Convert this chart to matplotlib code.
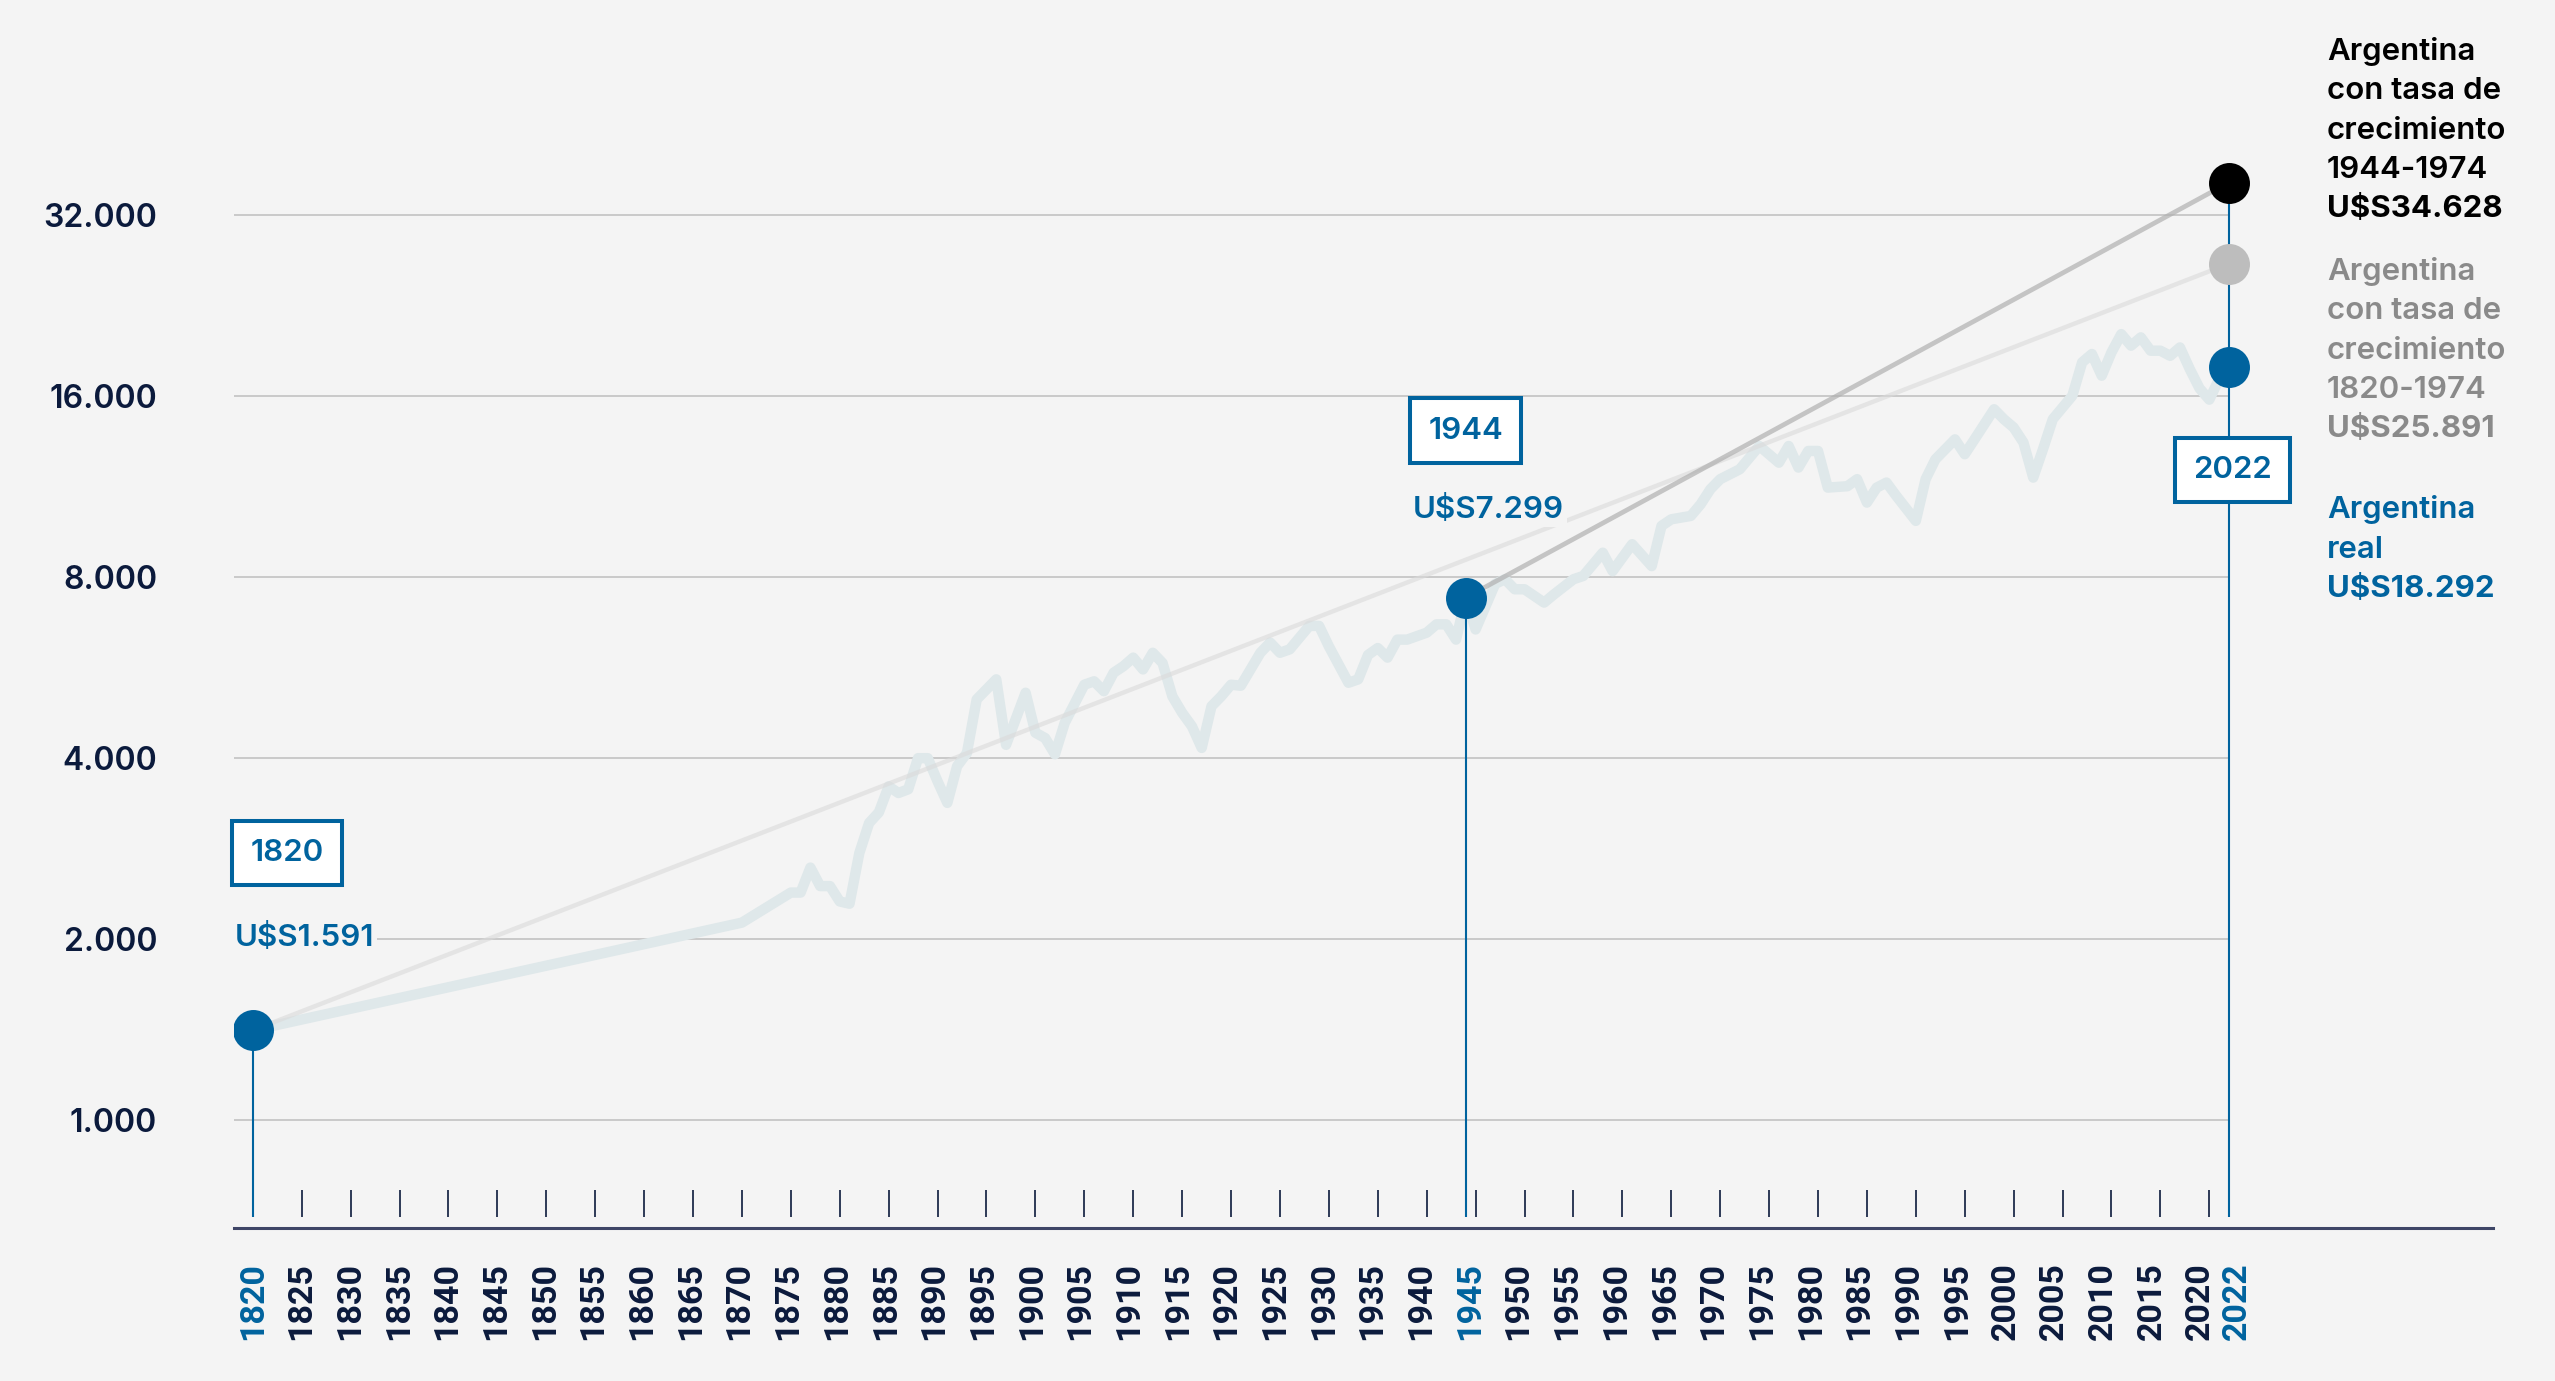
import matplotlib.pyplot as plt
from matplotlib.ticker import NullLocator

# ------------------------------------------------------------
# Datos: PIB per capita de Argentina (U$S)
# ------------------------------------------------------------
years = [1820, 1870, 1875, 1876, 1877, 1878, 1879, 1880, 1881, 1882, 1883, 1884,
         1885, 1886, 1887, 1888, 1889, 1890, 1891, 1892, 1893, 1894, 1896, 1897,
         1899, 1900, 1901, 1902, 1903, 1905, 1906, 1907, 1908, 1909, 1910, 1911,
         1912, 1913, 1914, 1915, 1916, 1917, 1918, 1919, 1920, 1921, 1923, 1924,
         1925, 1926, 1928, 1929, 1930, 1932, 1933, 1934, 1935, 1936, 1937, 1938,
         1940, 1941, 1942, 1943, 1944, 1945, 1947, 1948, 1949, 1950, 1952, 1953,
         1955, 1956, 1958, 1959, 1961, 1963, 1964, 1965, 1967, 1968, 1969, 1970,
         1972, 1974, 1976, 1977, 1978, 1979, 1980, 1981, 1983, 1984, 1985, 1986,
         1987, 1988, 1990, 1991, 1992, 1994, 1995, 1996, 1998, 1999, 2000, 2001,
         2002, 2003, 2004, 2006, 2007, 2008, 2009, 2010, 2011, 2012, 2013, 2014,
         2015, 2016, 2017, 2018, 2019, 2020, 2021, 2022]
gdp = [1410, 2130, 2390, 2390, 2630, 2450, 2450, 2310, 2290, 2780, 3120, 3250,
       3590, 3500, 3550, 4000, 4000, 3660, 3370, 3880, 4080, 5010, 5410, 4210,
       5140, 4410, 4320, 4060, 4580, 5300, 5370, 5170, 5550, 5690, 5880, 5620,
       5990, 5760, 5070, 4760, 4520, 4160, 4880, 5070, 5300, 5280, 5990, 6230,
       5990, 6070, 6640, 6640, 6140, 5340, 5410, 5940, 6100, 5880, 6300, 6300,
       6470, 6680, 6680, 6300, 7400, 6550, 7800, 7940, 7640, 7640, 7260, 7490,
       7940, 8040, 8790, 8190, 9080, 8350, 9740, 9990, 10120, 10580, 11210, 11650,
       12100, 13230, 12410, 13230, 12180, 12980, 12980, 11280, 11340, 11650, 10650, 11280,
       11500, 10930, 9930, 11650, 12570, 13570, 12820, 13570, 15230, 14660, 14200, 13410,
       11720, 13070, 14660, 16040, 18230, 18820, 17320, 18940, 20310, 19430, 20060, 19060,
       19060, 18690, 19300, 17770, 16500, 15800, 17100, 17900]

# proyecciones a 2022
proj_years = [1944, 2022]
proj_4474 = [7400, 36300]      # tasa de crecimiento 1944-1974
proj_years_b = [1820, 2022]
proj_2074 = [1410, 26600]      # tasa de crecimiento 1820-1974

grid_vals = [1000, 2000, 4000, 8000, 16000, 32000]
grid_labels = ["1.000", "2.000", "4.000", "8.000", "16.000", "32.000"]
tick_years = list(range(1820, 2021, 5)) + [2022]
highlight_years = [1820, 1945, 2022]

# ------------------------------------------------------------
# Estilo
# ------------------------------------------------------------
BG = "#f4f4f4"
BLUE = "#00639e"
NAVY = "#0b1a3c"
LINE = "#dfe8ea"
GRID = "#c6c6c6"
plt.rcParams["font.family"] = ["Inter", "DejaVu Sans"]

W, H = 2555, 1381
PX_PER_YEAR = 9.782
fig = plt.figure(figsize=(W / 100, H / 100), dpi=100, facecolor=BG)
ax = fig.add_axes([234 / W, (H - 1228) / H, (2493 - 234) / W, 1228 / H])
ax.set_facecolor(BG)
ax.set_yscale("log", base=2)
ax.set_xlim(1818.08, 2049.0)
ax.set_ylim(661.0, 73070)

# gridlines hasta 2022
ax.hlines(grid_vals, 1818.08, 2022, color=GRID, lw=1.3, zorder=1)

# serie real
ax.plot(years, gdp, color=LINE, lw=7.5, solid_joinstyle="round",
        solid_capstyle="round", zorder=2)

# proyecciones
ax.plot(proj_years_b, proj_2074, color="#dadada", lw=3.2, alpha=0.6, zorder=3)
ax.plot(proj_years, proj_4474, color="#b0b0b0", lw=3.4, alpha=0.7, zorder=3)

# marcas de anio
tick_lo, tick_hi = 689.6, 764.9
minor = [y for y in range(1825, 2021, 5)]
ax.vlines(minor, tick_lo, tick_hi, color=NAVY, lw=1.2, zorder=2)

# lineas verticales azules
i44 = years.index(1944)
ax.vlines([1820, 1944], tick_lo, [gdp[0], gdp[i44]], color=BLUE, lw=1.5, zorder=4)
ax.vlines(2022, tick_lo, proj_4474[-1], color=BLUE, lw=1.5, zorder=4)

# marcadores
ms = 29.5
ax.plot([1820, 1944, 2022], [gdp[0], gdp[i44], gdp[-1]], "o",
        color=BLUE, ms=ms, mec="none", zorder=6)
ax.plot(2022, proj_2074[-1], "o", color="#bdbdbd", ms=ms, mec="none", zorder=6)
ax.plot(2022, proj_4474[-1], "o", color="black", ms=ms, mec="none", zorder=6)

# cajas de anio y valores
box = dict(boxstyle="square,pad=0.58", fc="white", ec=BLUE, lw=2.9)
bgbox = dict(boxstyle="square,pad=0.1", fc=BG, ec="none")
fs = 22.5
wt = "semibold"
ax.annotate("1820", xy=(1820, gdp[0]), xytext=(34, 177), textcoords="offset pixels",
            ha="center", va="center", fontsize=fs, color=BLUE, fontweight=wt,
            bbox=box, zorder=7)
ax.annotate("U$S1.591", xy=(1820, gdp[0]), xytext=(-18, 93), textcoords="offset pixels",
            ha="left", va="center", fontsize=fs, color=BLUE, fontweight=wt,
            bbox=bgbox, zorder=7)
ax.annotate("1944", xy=(1944, gdp[i44]), xytext=(0, 167), textcoords="offset pixels",
            ha="center", va="center", fontsize=fs, color=BLUE, fontweight=wt,
            bbox=box, zorder=7)
ax.annotate("U$S7.299", xy=(1944, gdp[i44]), xytext=(-53, 88), textcoords="offset pixels",
            ha="left", va="center", fontsize=fs, color=BLUE, fontweight=wt,
            bbox=bgbox, zorder=7)
ax.annotate("2022", xy=(2022, gdp[-1]), xytext=(4, -103), textcoords="offset pixels",
            ha="center", va="center", fontsize=fs, color=BLUE, fontweight=wt,
            bbox=box, zorder=7)

# textos de la derecha
groups = [
    (["Argentina", "con tasa de", "crecimiento", "1944-1974"], "U$S34.628", "black", 59.8),
    (["Argentina", "con tasa de", "crecimiento", "1820-1974"], "U$S25.891", "#8a8a8a", 279.8),
    (["Argentina", "real"], "U$S18.292", BLUE, 518.2),
]
for lines, value, col, base in groups:
    for k, txt in enumerate(lines + [value]):
        fig.text(2327 / W, 1 - (base + 39.4 * k) / H, txt, ha="left", va="baseline",
                 fontsize=fs, color=col,
                 fontweight="bold" if txt == value else wt)

# eje y
ax.yaxis.set_minor_locator(NullLocator())
ax.xaxis.set_minor_locator(NullLocator())
ax.set_yticks(grid_vals)
ax.set_yticklabels(grid_labels, fontsize=23, fontweight="semibold", color=NAVY)
ax.tick_params(axis="y", length=0, pad=55.4)

# eje x: etiquetas de anio (ligeramente corridas como en el original)
ax.set_xticks([])
xt = ax.get_xaxis_transform()
for y in tick_years:
    shift_px = -(y - 1820) * 0.045 if y != 2022 else 8
    ax.text(y + shift_px / PX_PER_YEAR, -34 / 1228, str(y), transform=xt, rotation=90,
            ha="center", va="top", fontsize=24.5, fontweight="bold",
            family=["Roboto", "DejaVu Sans"],
            color=BLUE if y in highlight_years else NAVY)

for s in ["left", "right", "top"]:
    ax.spines[s].set_visible(False)
ax.spines["bottom"].set_color("#3e4566")
ax.spines["bottom"].set_linewidth(2.2)

fig.savefig("out.png", dpi=100, facecolor=BG)
